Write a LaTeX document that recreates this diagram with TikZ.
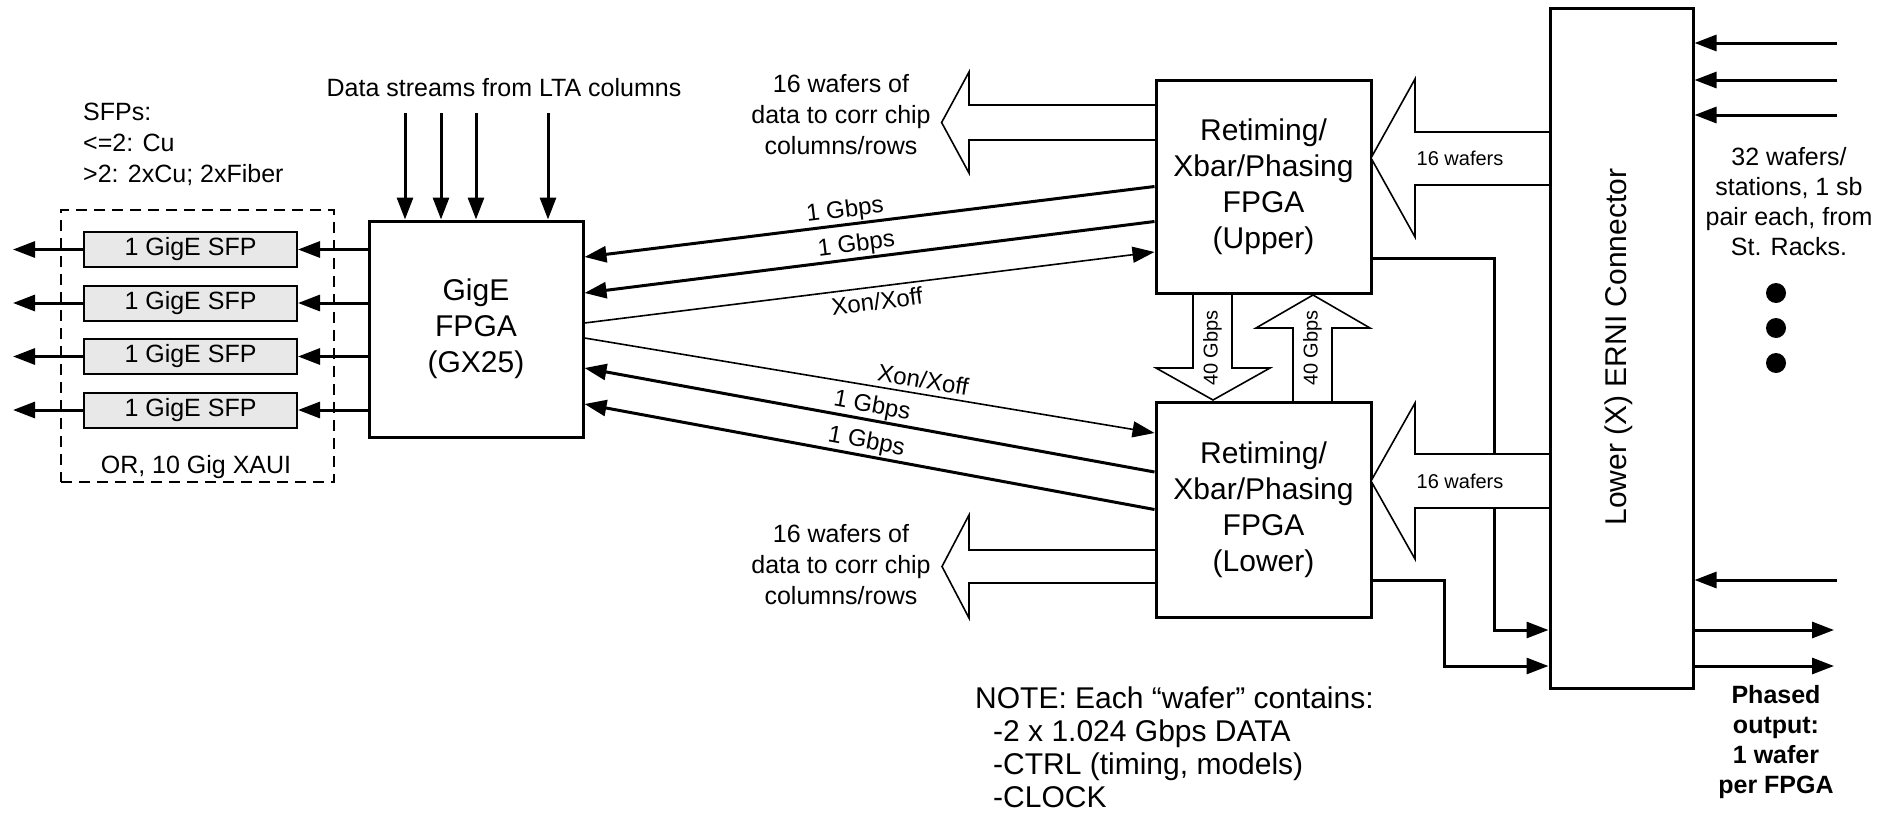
\documentclass[tikz,border=0pt]{standalone}
\usepackage{fontspec}
\setmainfont{Liberation Sans}
\usetikzlibrary{arrows.meta, positioning}

\begin{document}
\begin{tikzpicture}[x=1pt, y=-1pt,
    fpga/.style={draw, line width=3pt, minimum width=215pt, minimum height=214pt,
        align=center, font=\fontsize{30}{36}\selectfont},
    sfp/.style={draw, line width=2pt, fill=gray!18, minimum width=213pt,
        minimum height=35pt, inner sep=0pt, font=\fontsize{25}{30}\selectfont},
    link/.style={line width=3pt, -{Triangle[length=22pt,width=16pt]}},
    ctrl/.style={line width=1.6pt, -{Triangle[length=22pt,width=16pt]}},
    bigarrow/.style={draw, line width=1.6pt, fill=white, line join=miter},
    lbl/.style={align=center, font=\fontsize{25}{31}\selectfont},
    rate/.style={sloped, inner sep=1pt, font=\fontsize{24}{28}\selectfont},
    small/.style={font=\fontsize{20}{24}\selectfont}]
    \useasboundingbox (0,0) rectangle (1879,819);

    % block arrows that sit behind the boxes
    \draw[bigarrow] (1155,105) -- (969,105) -- (969,72) -- (941.6,122.5) -- (969,173) -- (969,140) -- (1155,140);
    \draw[bigarrow] (1155,550) -- (969,550) -- (969,515) -- (942,566.5) -- (969,618) -- (969,583) -- (1155,583);
    \draw[bigarrow] (1193,293) -- (1193,368) -- (1156,368) -- (1213,400) -- (1270,368) -- (1232,368) -- (1232,293);
    \draw[bigarrow] (1293,402) -- (1293,328) -- (1256,328) -- (1313,295) -- (1370,328) -- (1332,328) -- (1332,402);
    \node[small, rotate=90] (dnrate) at (1212.5,348) {40 Gbps};
    \node[small, rotate=90] (uprate) at (1312.5,348) {40 Gbps};
    \node[lbl] (corrup) at (841,115) {16 wafers of\\data to corr chip\\columns/rows};
    \node[lbl] (corrlo) at (841,565) {16 wafers of\\data to corr chip\\columns/rows};

    % boxes
    \node[fpga, minimum width=214pt, minimum height=216pt] (gige) at (476,329) {GigE\\FPGA\\(GX25)};
    \node[fpga, minimum height=213pt] (upper) at (1263.5,186.5) {Retiming/\\Xbar/Phasing\\FPGA\\(Upper)};
    \node[fpga, minimum height=215pt] (lower) at (1263.5,509.5) {Retiming/\\Xbar/Phasing\\FPGA\\(Lower)};
    \node[draw, line width=3pt, minimum width=143pt, minimum height=680pt] (erni) at (1621.5,348) {};
    \node[rotate=90, font=\fontsize{30}{36}\selectfont] (ernilbl) at (1619,347) {Lower (X) ERNI Connector};

    % SFPs
    \node[draw, line width=2pt, dash pattern=on 11pt off 7pt, minimum width=273pt, minimum height=272pt] (xaui) at (197.5,346) {};
    \node[lbl] (xauilbl) at (196,467) {OR, 10 Gig XAUI};
    \node[lbl, align=left, anchor=north west, inner sep=0pt] (sfpnote) at (83,103) {SFPs:\\<=2: Cu\\>2: 2xCu; 2xFiber};
    \foreach \y [count=\i] in {249.5,303,356.5,410} {
        \node[sfp] (sfp\i) at (190.5,\y) {1 GigE SFP};
        \coordinate (out\i) at (13,\y);
        \draw[link] (gige.west |- sfp\i) -- (sfp\i.east);
        \draw[link] (sfp\i.west) -- (out\i);
    }

    % LTA inputs
    \node[lbl] (lta) at (504,88) {Data streams from LTA columns};
    \foreach \x [count=\i] in {405,441,476,548} {
        \coordinate (lta\i) at (\x,113);
        \draw[link] (lta\i) -- (lta\i |- gige.north);
    }

    % links between GigE and retiming FPGAs
    \draw[link] (upper.west) -- node[rate, above, pos=0.54] {1 Gbps} ([yshift=72pt]gige.east);
    \draw[link] ([yshift=-35pt]upper.west) -- node[rate, above, pos=0.52] {1 Gbps} ([yshift=36pt]gige.east);
    \draw[ctrl] ([yshift=6pt]gige.east) -- node[rate, below=4pt, pos=0.51] {Xon/Xoff} ([yshift=-65.5pt]upper.west);
    \draw[ctrl] ([yshift=-9pt]gige.east) -- node[rate, above=4pt, pos=0.59] {Xon/Xoff} ([yshift=76.5pt]lower.west);
    \draw[link] ([yshift=37.5pt]lower.west) -- node[rate, above, pos=0.5] {1 Gbps} ([yshift=-39pt]gige.east);
    \draw[link] (lower.west) -- node[rate, above, pos=0.51] {1 Gbps} ([yshift=-75pt]gige.east);

    % phased outputs into the connector
    \draw[link] ([yshift=-71.5pt]upper.east) -- ++(121.5,0) |- ([yshift=-282pt]erni.west);
    \draw[link] ([yshift=-70.5pt]lower.east) -- ++(72,0) |- ([yshift=-318pt]erni.west);

    % block arrows from the connector
    \draw[bigarrow] (1550,132) -- (1415,132) -- (1415,79) -- (1371,158) -- (1415,237) -- (1415,185) -- (1550,185) -- cycle;
    \draw[bigarrow] (1550,454) -- (1415,454) -- (1415,403) -- (1371,481) -- (1415,559) -- (1415,508) -- (1550,508) -- cycle;
    \node[small] (wafup) at (1460,158) {16 wafers};
    \node[small] (waflo) at (1460,481) {16 wafers};

    % station racks
    \foreach \y [count=\i] in {43,80,115,580} {
        \coordinate (rack\i) at (1837,\y);
        \draw[link] (rack\i) -- (rack\i -| erni.east);
    }
    \foreach \y [count=\i] in {630,666} {
        \coordinate (ph\i) at (1834,\y);
        \draw[link] (ph\i -| erni.east) -- (ph\i);
    }
    \node[lbl, font=\fontsize{25}{30}\selectfont] (racks) at (1789,202) {32 wafers/\\stations, 1 sb\\pair each, from\\St. Racks.};
    \foreach \y in {293,328,363}
        \fill (1776,\y) circle[radius=10pt];
    \node[lbl, font=\fontsize{25}{30}\selectfont\bfseries] (phased) at (1776,742.5) {Phased\\output:\\1 wafer\\per FPGA};

    % note
    \node[anchor=north west, inner sep=0pt, align=left, font=\fontsize{30}{33}\selectfont] (note) at (975,687)
        {NOTE: Each “wafer” contains:\\\hspace*{18pt}-2 x 1.024 Gbps DATA\\\hspace*{18pt}-CTRL (timing, models)\\\hspace*{18pt}-CLOCK};
\end{tikzpicture}
\end{document}
